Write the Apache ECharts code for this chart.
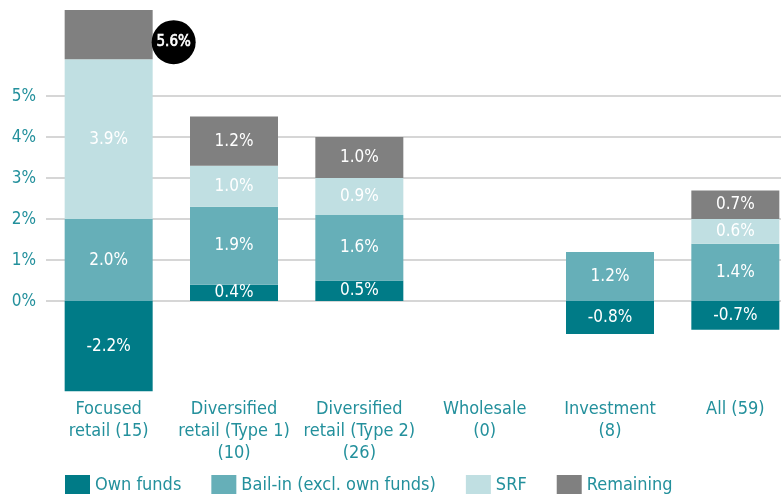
<!DOCTYPE html>
<html>
<head>
<meta charset="utf-8">
<script src="https://cdn.jsdelivr.net/npm/echarts@6/dist/echarts.min.js"></script>
<style>
  html, body { margin: 0; padding: 0; background: #fff; }
  #chart { width: 781px; height: 494px; }
</style>
</head>
<body>
<div id="chart"></div>
<script>
// Bank groups and their loss-absorbing layers (% of total liabilities and own funds)
const categories = [
  'Focused\nretail (15)',
  'Diversified\nretail (Type 1)\n(10)',
  'Diversified\nretail (Type 2)\n(26)',
  'Wholesale\n(0)',
  'Investment\n(8)',
  'All (59)'
];
const ownFunds  = [-2.2, 0.4, 0.5, null, -0.8, -0.7];
const bailIn    = [ 2.0, 1.9, 1.6, null,  1.2,  1.4];
const srf       = [ 3.9, 1.0, 0.9, null, null,  0.6];
const remaining = [ 5.6, 1.2, 1.0, null, null,  0.7];
const yTicks    = [0, 1, 2, 3, 4, 5];

const FONT = "'Liberation Sans Narrow', 'DejaVu Sans Condensed', Roboto, sans-serif";
const TEAL_TEXT = '#23909c';
const COLORS = ['#007b87', '#66afb8', '#c0dfe2', '#808080'];

const chart = echarts.init(document.getElementById('chart'), null, { renderer: 'canvas' });

const barLabel = {
  show: true,
  position: 'inside',
  color: '#ffffff',
  fontFamily: FONT,
  fontSize: 17,
  formatter: p => p.value == null ? '' : p.value.toFixed(1) + '%'
};

function series(name, values, color, extra) {
  return Object.assign({
    name: name,
    type: 'bar',
    stack: 'total',
    barWidth: 88,
    clip: true,
    itemStyle: { color: color },
    label: barLabel,
    data: values.slice()
  }, extra || {});
}

// The focused-retail "Remaining" block runs off the top; its value goes in a callout instead
const remainingData = remaining.map((v, i) =>
  i === 0 ? { value: v, label: { show: false } } : v
);

chart.setOption({
  animation: false,
  textStyle: { fontFamily: FONT },
  grid: {
    left: 46, top: 10, width: 752, height: 381.3,
    containLabel: false,
    outerBoundsMode: 'none'
  },
  legend: {
    top: 475,
    left: 65,
    padding: 0,
    itemWidth: 25,
    itemHeight: 20,
    itemGap: 30,
    icon: 'rect',
    textStyle: { color: TEAL_TEXT, fontSize: 18, fontFamily: FONT, padding: [0, 0, 0, 0] },
    data: ['Own funds', 'Bail-in (excl. own funds)', 'SRF', 'Remaining']
  },
  xAxis: {
    type: 'category',
    data: categories,
    position: 'bottom',
    axisLine: { show: false, onZero: false },
    axisTick: { show: false },
    axisLabel: {
      color: TEAL_TEXT,
      fontSize: 18,
      lineHeight: 22,
      fontFamily: FONT,
      margin: 7,
      interval: 0
    }
  },
  yAxis: {
    type: 'value',
    min: -2.2,
    max: 7.1,
    axisLine: { show: false },
    axisTick: { show: false, customValues: yTicks },
    axisLabel: {
      customValues: yTicks,
      color: TEAL_TEXT,
      fontSize: 17,
      fontFamily: FONT,
      margin: 10,
      formatter: '{value}%'
    },
    splitLine: { show: true, lineStyle: { color: '#c8c8c8', width: 1.5 } }
  },
  series: [
    series('Own funds', ownFunds, COLORS[0]),
    series('Bail-in (excl. own funds)', bailIn, COLORS[1]),
    series('SRF', srf, COLORS[2]),
    series('Remaining', remainingData, COLORS[3], {
      markPoint: {
        symbol: 'circle',
        symbolSize: 44,
        symbolOffset: [65, -17],
        itemStyle: { color: '#000000' },
        label: {
          show: true,
          color: '#ffffff',
          fontSize: 15,
          fontFamily: FONT,
          textBorderColor: '#ffffff',
          textBorderWidth: 0.6,
          formatter: p => p.value.toFixed(1) + '%'
        },
        data: [{ coord: [0, bailIn[0] + srf[0]], value: remaining[0] }]
      }
    })
  ]
});
</script>
</body>
</html>
